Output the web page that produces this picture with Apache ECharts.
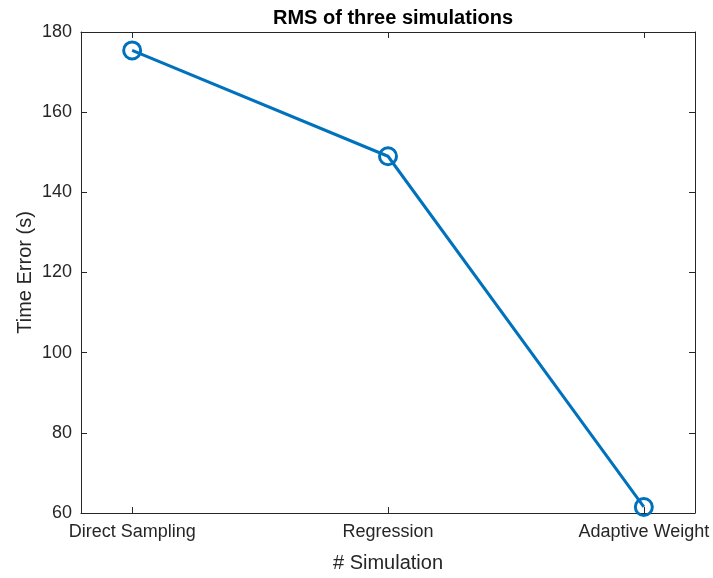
<!DOCTYPE html>
<html>
<head>
<meta charset="utf-8">
<script src="https://cdn.jsdelivr.net/npm/echarts@6/dist/echarts.min.js"></script>
<style>html,body{margin:0;padding:0;background:#fff;}#c{width:713px;height:578px;}</style>
</head>
<body>
<div id="c"></div>
<script>
const categories = ['Direct Sampling', 'Regression', 'Adaptive Weight'];
const positions = [1, 2, 3];
const rmsValues = [175.4, 149.0, 61.5];
const yTicks = [60, 80, 100, 120, 140, 160, 180];

const FONT = '"Liberation Sans", Arial, Helvetica, sans-serif';
const TXT = '#262626';
const BLUE = '#0072BD';

const chart = echarts.init(document.getElementById('c'), null, {renderer: 'canvas'});
const axisLine = {show: true, onZero: false, lineStyle: {color: TXT, width: 1}};
const tick = {show: true, inside: true, length: 6, lineStyle: {color: TXT, width: 1}};

chart.setOption({
  animation: false,
  backgroundColor: '#fff',
  title: {
    text: 'RMS of three simulations',
    left: 388, top: 3, textAlign: 'center',
    textStyle: {fontFamily: FONT, fontSize: 20, fontWeight: 'bold', color: '#000'}
  },
  grid: {left: 81, right: 18, top: 32, bottom: 62, containLabel: false},
  xAxis: [{
    type: 'value', min: 0.8, max: 3.2, position: 'bottom',
    name: '# Simulation', nameLocation: 'middle', nameGap: 40,
    nameTextStyle: {fontFamily: FONT, fontSize: 20, color: TXT},
    axisLine: axisLine,
    axisTick: Object.assign({}, tick, {customValues: positions}),
    axisLabel: {
      customValues: positions, margin: 10,
      fontFamily: FONT, fontSize: 18, color: TXT,
      formatter: v => categories[positions.indexOf(Math.round(v))] || ''
    },
    splitLine: {show: false}
  }, {
    type: 'value', min: 0.8, max: 3.2, position: 'top',
    axisLine: axisLine,
    axisTick: Object.assign({}, tick, {customValues: positions}),
    axisLabel: {show: false},
    splitLine: {show: false}
  }],
  yAxis: [{
    type: 'value', min: yTicks[0], max: yTicks[yTicks.length - 1], interval: 20, position: 'left',
    name: 'Time Error (s)', nameLocation: 'middle', nameGap: 46, nameMoveOverlap: false,
    nameTextStyle: {fontFamily: FONT, fontSize: 20, color: TXT},
    axisLine: axisLine, axisTick: tick,
    axisLabel: {margin: 9, fontFamily: FONT, fontSize: 18, color: TXT},
    splitLine: {show: false}
  }, {
    type: 'value', min: yTicks[0], max: yTicks[yTicks.length - 1], interval: 20, position: 'right',
    axisLine: axisLine, axisTick: tick,
    axisLabel: {show: false},
    splitLine: {show: false}
  }],
  series: [{
    type: 'line',
    xAxisIndex: 0, yAxisIndex: 0,
    data: positions.map((p, i) => [p, rmsValues[i]]),
    clip: false,
    symbol: 'circle', symbolSize: 17,
    lineStyle: {color: BLUE, width: 3},
    itemStyle: {color: 'rgba(0,0,0,0)', borderColor: BLUE, borderWidth: 3},
    z: 3
  }]
});
</script>
</body>
</html>
